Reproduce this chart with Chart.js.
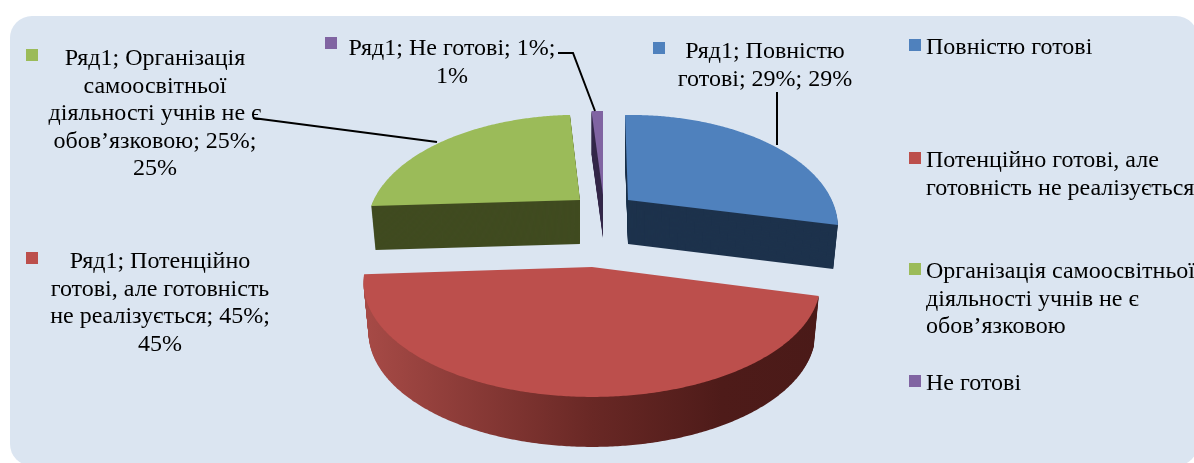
<!DOCTYPE html>
<html lang="uk">
<head>
<meta charset="utf-8">
<title>Готовність</title>
<script src="https://cdn.jsdelivr.net/npm/chart.js@4/dist/chart.umd.min.js"></script>
<style>
    html, body { margin: 0; padding: 0; background: #fff; overflow: hidden; }
    #panel { position: absolute; left: 10px; top: 16px; width: 1188px; height: 450px; background: #DBE5F1; border-radius: 22px; }
    #myPie { position: absolute; left: 0; top: 0; }
</style>
</head>
<body>
<div id="panel"></div>
<canvas id="myPie" width="1194" height="463"></canvas>
<script>
"use strict";

// data
const categories = ["Повністю готові", "Потенційно готові, але готовність не реалізується", "Організація самоосвітньої діяльності учнів не є обов’язковою", "Не готові"];
const values = [29, 45, 25, 1];
const legendLines = [
    ["Повністю готові"],
    ["Потенційно готові, але", "готовність не реалізується"],
    ["Організація самоосвітньої", "діяльності учнів не є", "обов’язковою"],
    ["Не готові"]
];
const dataLabelLines = [
    ["Ряд1; Повністю", "готові; 29%; 29%"],
    ["Ряд1; Потенційно", "готові, але готовність", "не реалізується; 45%;", "45%"],
    ["Ряд1; Організація", "самоосвітньої", "діяльності учнів не є", "обов’язковою; 25%;", "25%"],
    ["Ряд1; Не готові; 1%;", "1%"]
];

// styles
const topColors = ["#4F81BD", "#BC4F4C", "#9BBB59", "#8064A2"];
const sideColors = ["#1D324C", "#4E1B19", "#404B20", "#35294A"];
const FONT = '24px "Liberation Serif"';
const LINE_HEIGHT = 27.6;
const PIE_RADIUS = 232;

// how each exploded slice lies on the tilted plane
const sliceViews = [
    { a: 0.872, b: 0.016, c: -0.013, d: 0.458, p: 0.25, x: 628, y: 200, depth: 44, shrink: 0.022 },
    { a: 0.976, b: 0, c: 0, d: 0.485, p: 0.134, x: 592, y: 267, depth: 50, shrink: 0.022 },
    { a: 0.888, b: -0.002, c: 0.003, d: 0.459, p: 0.25, x: 580, y: 200, depth: 44, shrink: 0.02 },
    { a: 0.99, b: 0, c: 0, d: 0.453, p: 0.25, x: 603, y: 195, depth: 43, shrink: 0 }
];
const drawOrder = [3, 0, 2, 1];

const legendPlaces = [[909, 54], [909, 167], [909, 278], [909, 390]];
const labelPlaces = [[765, 58, 653, 42], [160, 268, 26, 252], [155, 65, 26, 49], [452, 55, 325, 37]];
const leaderLines = [
    [[777, 92], [777, 145]],
    [],
    [[253, 118], [437, 142]],
    [[558, 53], [573, 53], [595, 111]]
];

/**
 * Trace one slice, from the angles chart.js worked out, through the perspective of its view
 * @param t 0 is the top face, 1 the bottom face
 */
function slicePath(ctx, arc, view, t) {
    const project = (cos, sin) => {
        const w = 1 - view.p * sin;
        const shrink = 1 - view.shrink * t;
        return [
            view.x + shrink * arc.outerRadius * (view.a * cos + view.b * sin) / w,
            view.y + view.depth * t + arc.outerRadius * (view.c * cos + view.d * sin) / w
        ];
    };
    ctx.beginPath();
    ctx.moveTo(view.x, view.y + view.depth * t);
    const steps = Math.ceil((arc.endAngle - arc.startAngle) / 0.01);
    for (let k = 0; k <= steps; k++) {
        const angle = arc.startAngle + (arc.endAngle - arc.startAngle) * k / steps;
        const p = project(Math.cos(angle), Math.sin(angle));
        ctx.lineTo(p[0], p[1]);
    }
    ctx.closePath();
}

// 3d look: the arcs of chart.js get squashed and extruded
const tiltedPie = {
    id: "tiltedPie",
    beforeDatasetDraw(chart) {
        const ctx = chart.ctx;
        const arcs = chart.getDatasetMeta(0).data;

        drawOrder.forEach(i => {
            const arc = arcs[i];
            const view = sliceViews[i];

            if (i === 1) {
                const grad = ctx.createLinearGradient(view.x - arc.outerRadius, 0, view.x + arc.outerRadius, 0);
                grad.addColorStop(0, "#A84B47");
                grad.addColorStop(0.5, "#692825");
                grad.addColorStop(0.78, "#4E1B19");
                grad.addColorStop(1, "#4A1A18");
                ctx.fillStyle = grad;
            } else {
                ctx.fillStyle = sideColors[i];
            }
            for (let step = view.depth; step > 0; step--) {
                slicePath(ctx, arc, view, step / view.depth);
                ctx.fill();
            }

            ctx.fillStyle = arc.options.backgroundColor;
            slicePath(ctx, arc, view, 0);
            ctx.fill();
        });
        return false;
    },
    afterDraw(chart) {
        const ctx = chart.ctx;
        ctx.save();
        ctx.font = FONT;
        ctx.textBaseline = "alphabetic";

        // leader lines
        ctx.strokeStyle = "#000";
        ctx.lineWidth = 2;
        leaderLines.forEach(points => {
            if (points.length === 0) return;
            ctx.beginPath();
            points.forEach((p, k) => k === 0 ? ctx.moveTo(p[0], p[1]) : ctx.lineTo(p[0], p[1]));
            ctx.stroke();
        });

        // data labels
        dataLabelLines.forEach((lines, i) => {
            const place = labelPlaces[i];
            ctx.fillStyle = topColors[i];
            ctx.fillRect(place[2], place[3], 12, 12);
            ctx.fillStyle = "#000";
            ctx.textAlign = "center";
            lines.forEach((line, k) => ctx.fillText(line, place[0], place[1] + k * LINE_HEIGHT));
        });

        // legend
        legendLines.forEach((lines, i) => {
            const place = legendPlaces[i];
            ctx.fillStyle = topColors[i];
            ctx.fillRect(place[0], place[1] - 15, 12, 12);
            ctx.fillStyle = "#000";
            ctx.textAlign = "left";
            lines.forEach((line, k) => ctx.fillText(line, place[0] + 17, place[1] + k * LINE_HEIGHT));
        });
        ctx.restore();
    }
};

const ctx = document.getElementById("myPie");
new Chart(ctx, {
    type: "pie",
    data: {
        labels: categories,
        datasets: [{
            label: "Ряд1",
            data: values,
            backgroundColor: topColors,
            borderWidth: 0
        }]
    },
    options: {
        responsive: false,
        animation: false,
        radius: PIE_RADIUS,
        plugins: {
            legend: { display: false },
            tooltip: { enabled: false }
        }
    },
    plugins: [tiltedPie]
});
</script>
</body>
</html>
